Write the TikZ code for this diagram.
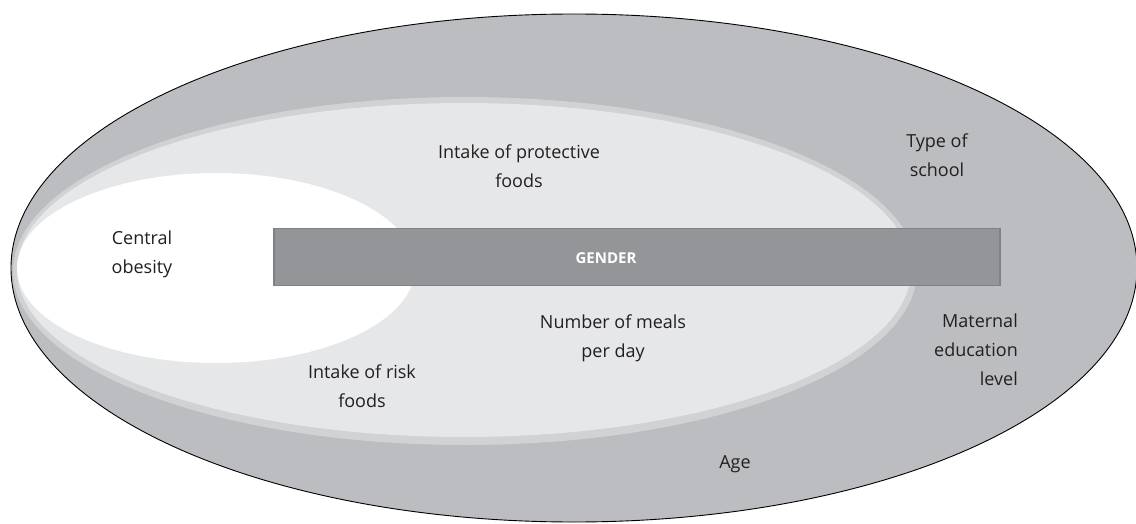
\documentclass[tikz,border=0pt]{standalone}
\usepackage{fontspec}
\setmainfont{Open Sans}
\definecolor{outerg}{HTML}{BCBDC0}
\definecolor{bandg}{HTML}{D1D2D4}
\definecolor{lightg}{HTML}{E6E7E8}
\definecolor{rectg}{HTML}{939598}
\definecolor{rectb}{HTML}{808184}
\definecolor{txt}{HTML}{231F20}
\begin{document}
\begin{tikzpicture}[x=1pt,y=-1pt,
  lbl/.style={font=\fontsize{18}{29}\selectfont, text=txt, align=center, inner sep=0pt},
  lblr/.style={lbl, align=right}]
\useasboundingbox (0,0) rectangle (1136,524);
\begin{scope}
\clip (0,0) rectangle (1136,524);
\draw[fill=outerg, draw=black, line width=0.9pt] (574,268) ellipse [x radius=563, y radius=254];
\fill[bandg] (465,271) ellipse [x radius=452, y radius=174];
\fill[lightg] (464,270) ellipse [x radius=447, y radius=167];
\fill[white] (216,268) ellipse [x radius=199, y radius=95];
\end{scope}
\node[draw=rectb, fill=rectg, line width=1.2pt, minimum width=726pt, minimum height=57pt, inner sep=0pt] (box) at (637,257) {};
\node[font=\fontsize{15}{18}\selectfont\bfseries, text=white, inner sep=0pt] (gender) at (606,258) {GENDER};
\node[lbl] (protect) at (519,166) {Intake of protective\\foods};
\node[lbl] (school) at (937,155) {Type of\\school};
\node[lbl] (central) at (142,254) {Central\\obesity};
\node[lbl] (meals) at (613,338) {Number of meals\\per day};
\node[lbl] (risk) at (362,386) {Intake of risk\\foods};
\node[lblr, anchor=east] (maternal) at (1018,350) {Maternal\\education\\level};
\node[lbl] (age) at (735,464) {Age};
\end{tikzpicture}
\end{document}
